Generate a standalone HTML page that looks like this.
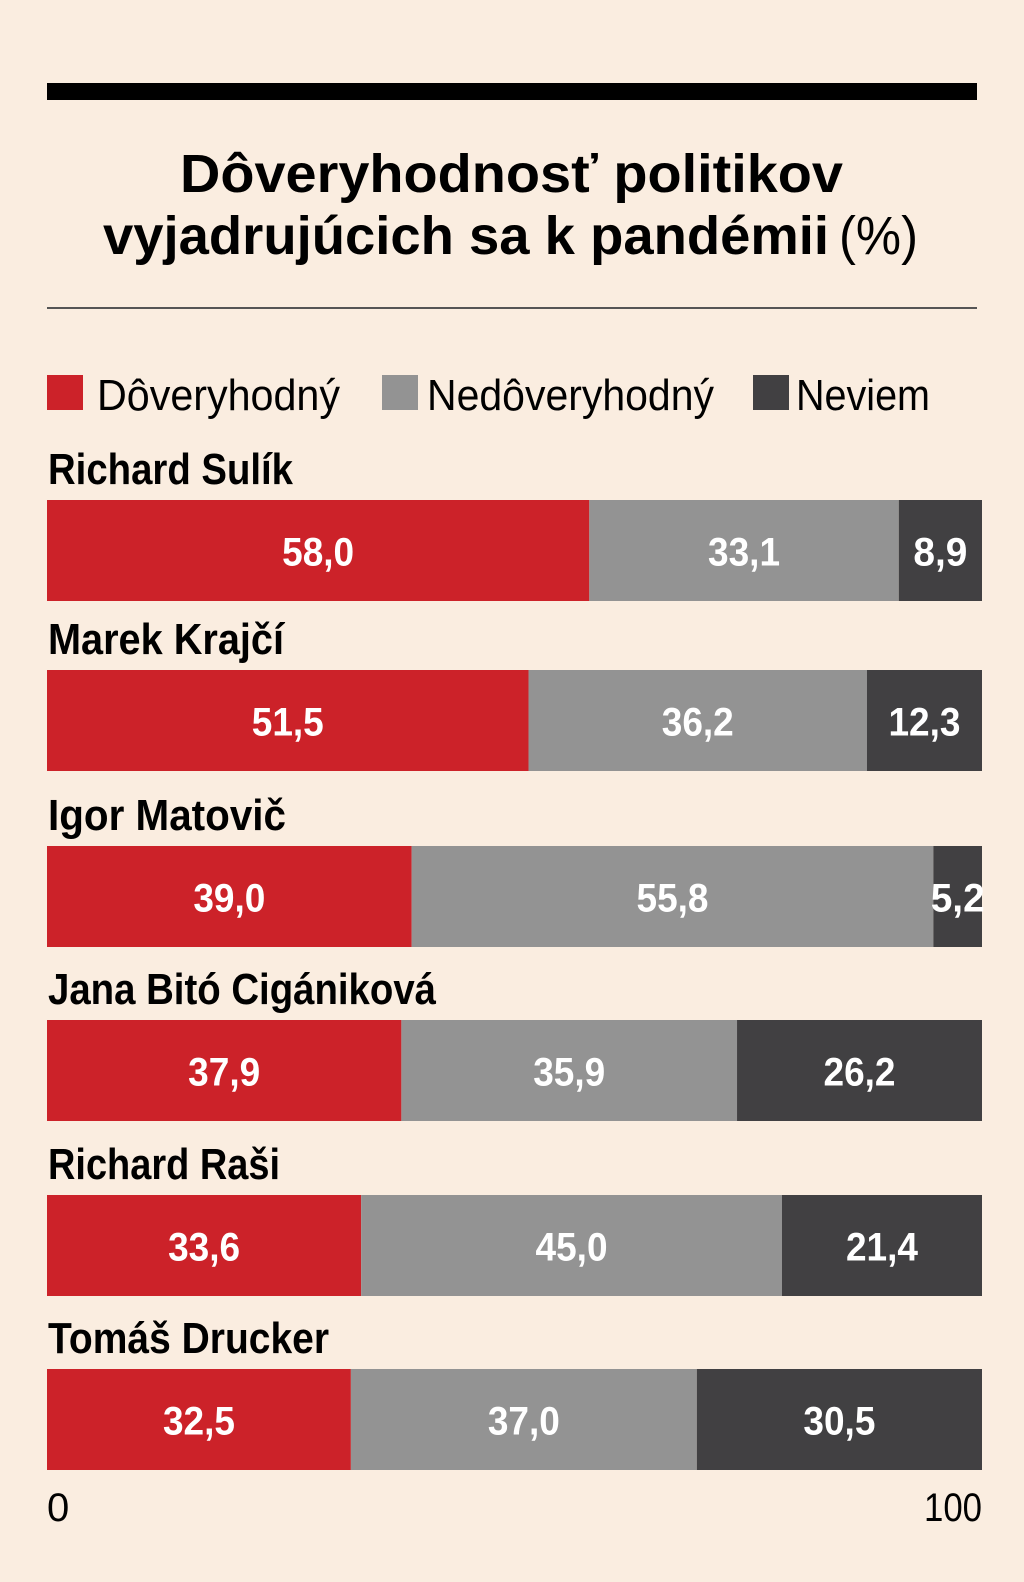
<!DOCTYPE html>
<html><head><meta charset="utf-8"><style>
html,body{margin:0;padding:0;background:#faede0;}
svg{display:block;font-family:"Liberation Sans Narrow","Liberation Sans",sans-serif;}
</style></head><body>
<svg width="1024" height="1582" viewBox="0 0 1024 1582">
<rect x="0" y="0" width="1024" height="1582" fill="#faede0"/>
<rect x="47" y="83" width="930" height="17" fill="#000"/>
<text x="180" y="192" font-size="54" font-weight="bold" textLength="663" lengthAdjust="spacingAndGlyphs">Dôveryhodnosť politikov</text>
<text x="103" y="254" font-size="54" font-weight="bold" textLength="726" lengthAdjust="spacingAndGlyphs">vyjadrujúcich sa k pandémii</text>
<text x="839" y="254" font-size="54" textLength="79" lengthAdjust="spacingAndGlyphs">(%)</text>
<rect x="47" y="307" width="930" height="2" fill="#555"/>
<g id="legend">
<rect x="47" y="375" width="36" height="35" fill="#cc2229"/>
<text x="97" y="410" font-size="44" textLength="243" lengthAdjust="spacingAndGlyphs">Dôveryhodný</text>
<rect x="382" y="375" width="36" height="35" fill="#939393"/>
<text x="427" y="410" font-size="44" textLength="287" lengthAdjust="spacingAndGlyphs">Nedôveryhodný</text>
<rect x="753" y="375" width="36" height="35" fill="#414042"/>
<text x="796" y="410" font-size="44" textLength="134" lengthAdjust="spacingAndGlyphs">Neviem</text>
</g>
<g id="bars"></g>
<text x="47" y="1521" font-size="40">0</text>
<text x="982" y="1521" font-size="40" text-anchor="end" textLength="58" lengthAdjust="spacingAndGlyphs">100</text>
</svg>
<script>
const names = ["Richard Sulík","Marek Krajčí","Igor Matovič","Jana Bitó Cigániková","Richard Raši","Tomáš Drucker"];
const trusted = [58.0,51.5,39.0,37.9,33.6,32.5];
const untrusted = [33.1,36.2,55.8,35.9,45.0,37.0];
const unknown = [8.9,12.3,5.2,26.2,21.4,30.5];
const nameWidths = [245,236,238,388,232,281];
const NS="http://www.w3.org/2000/svg";
const X0=47,X1=982;
const x=v=>X0+(X1-X0)*v/100;
const barTops=[500,670,846,1020,1195,1369];
const barH=101;
const colors=["#cc2229","#939393","#414042"];
const keys=["trusted","untrusted","unknown"];
const g=document.getElementById("bars");
function fmt(v){return v.toFixed(1).replace(".",",");}
names.forEach((n,i)=>{
  const top=barTops[i];
  const t=document.createElementNS(NS,"text");
  t.setAttribute("x",48);t.setAttribute("y",top-16);
  t.setAttribute("font-size","44");t.setAttribute("font-weight","bold");
  t.setAttribute("textLength",nameWidths[i]);t.setAttribute("lengthAdjust","spacingAndGlyphs");
  t.textContent=n;
  
  
  g.appendChild(t);
  const vals=[trusted[i],untrusted[i],unknown[i]];
  let acc=0;
  vals.forEach((v,k)=>{
    const r=document.createElementNS(NS,"rect");
    r.setAttribute("x",x(acc));r.setAttribute("y",top);
    r.setAttribute("width",x(acc+v)-x(acc));r.setAttribute("height",barH);
    r.setAttribute("fill",colors[k]);
    
    
    g.appendChild(r);
    const s=fmt(v);
    const lb=document.createElementNS(NS,"text");
    lb.setAttribute("x",(x(acc)+x(acc+v))/2);lb.setAttribute("y",top+barH/2+15);
    lb.setAttribute("text-anchor","middle");lb.setAttribute("fill","#fff");
    lb.setAttribute("font-size","40");lb.setAttribute("font-weight","bold");
    lb.setAttribute("textLength",s.length*18);lb.setAttribute("lengthAdjust","spacingAndGlyphs");
    lb.textContent=s;
    
    
    g.appendChild(lb);
    acc+=v;
  });
});
</script>
</body></html>
